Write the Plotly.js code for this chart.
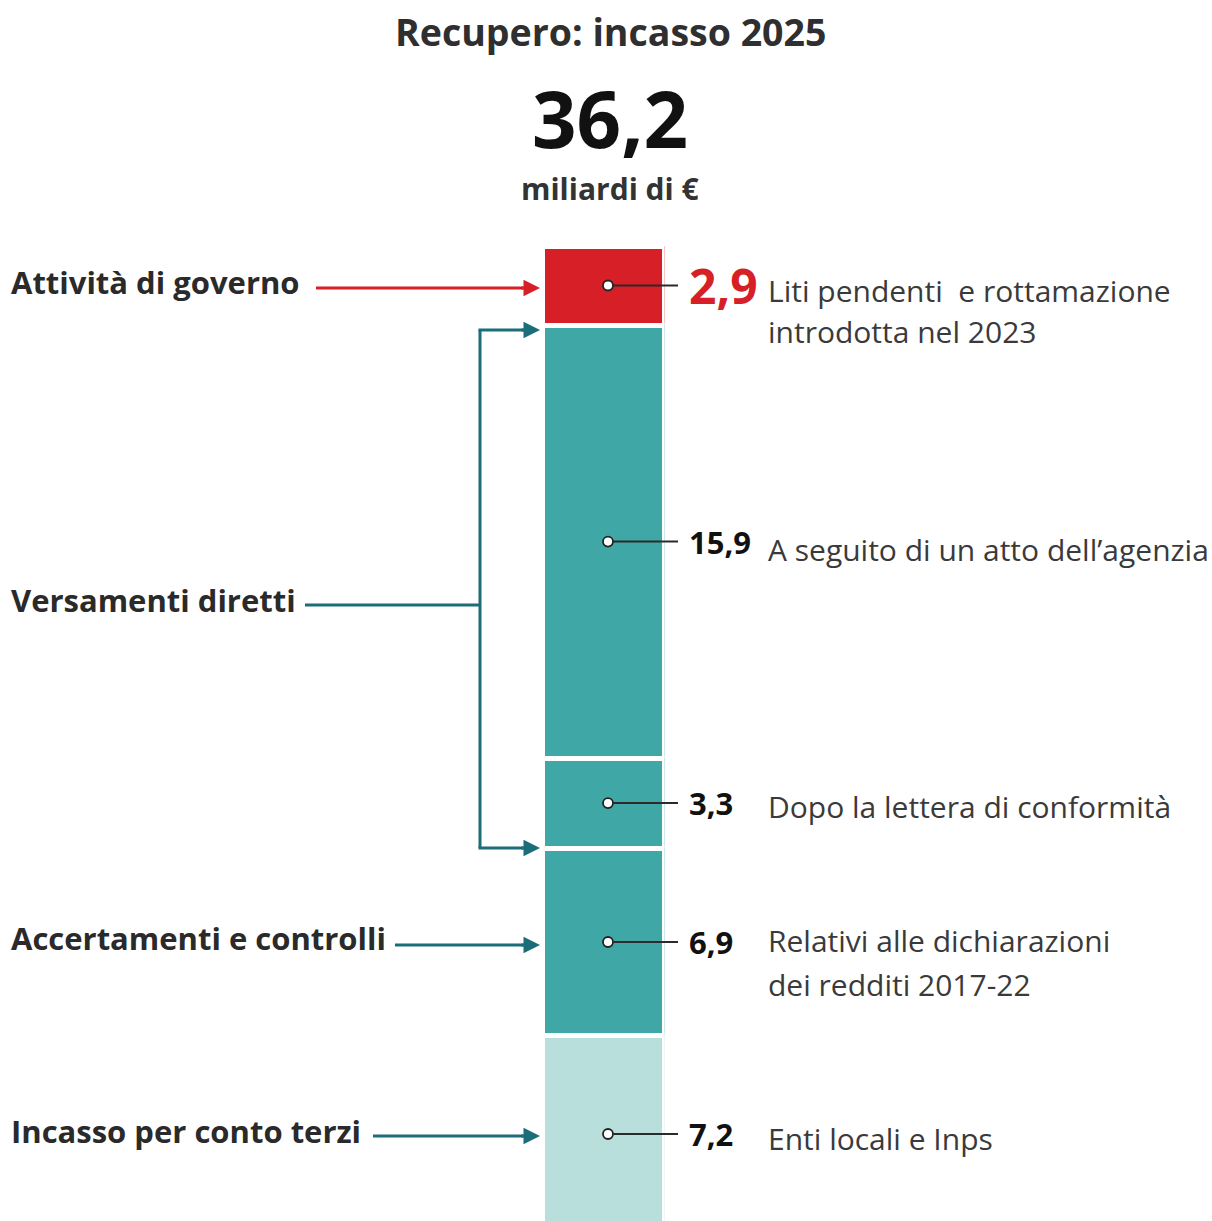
<!DOCTYPE html>
<html>
<head>
<meta charset="utf-8">
<script src="https://cdn.plot.ly/plotly-3.0.1.min.js"></script>
<style>html,body{margin:0;padding:0;background:#fff;}#chart{width:1212px;height:1221px;}</style>
</head>
<body>
<div id="chart"></div>
<script>
// ---- data ----
const segmentValues = [2.9, 15.9, 3.3, 6.9, 7.2];
const valueLabels = ['2,9', '15,9', '3,3', '6,9', '7,2'];
const descriptions = [
  ['Liti pendenti  e rottamazione', 'introdotta nel 2023'],
  ['A seguito di un atto dell’agenzia'],
  ['Dopo la lettera di conformità'],
  ['Relativi alle dichiarazioni', 'dei redditi 2017-22'],
  ['Enti locali e Inps']
];
const groupLabels = ['Attività di governo', 'Versamenti diretti', 'Accertamenti e controlli', 'Incasso per conto terzi'];
const totalLabel = '36,2';
const titleText = 'Recupero: incasso 2025';
const unitText = 'miliardi di €';
const category = ['Recupero'];

// ---- styles ----
const W = 1212, H = 1221, T = 246, B = 0;
const segColors = ['#d71f27', '#3fa8a6', '#3fa8a6', '#3fa8a6', '#b9dfdd'];
const red = '#d71f27', teal = '#1c6d7a';
const FONT = '"Open Sans", Lato, sans-serif';
const pxPerUnit = 27.24;
const plotH = H - T - B;
const yMax = plotH / pxPerUnit;
const px = x => x / W;
const py = y => (H - y) / plotH;

// cumulative midpoints
const mids = [];
let acc = 0;
segmentValues.forEach(v => { mids.push(acc + v / 2); acc += v; });

const traces = segmentValues.map((v, i) => ({
  type: 'bar', x: category, y: [v], xaxis: 'x', yaxis: 'y',
  marker: {color: segColors[i], line: {color: '#ffffff', width: 5}},
  hoverinfo: 'skip', showlegend: false
}));

// dots at segment midpoints
traces.push({
  type: 'scatter', mode: 'markers', xaxis: 'x2', yaxis: 'y',
  x: mids.map(() => 608), y: mids,
  marker: {size: 10, color: '#ffffff', line: {color: '#222222', width: 1.8}},
  hoverinfo: 'skip', showlegend: false, cliponaxis: false
});

const shapes = [];
// leader lines
mids.forEach(m => {
  shapes.push({type: 'line', xref: 'paper', yref: 'y', x0: px(613), x1: px(678), y0: m, y1: m,
    line: {color: '#2b2b2b', width: 2}, layer: 'above'});
});
// bracket for Versamenti diretti
shapes.push({type: 'line', xref: 'paper', yref: 'paper', x0: px(480), x1: px(480), y0: py(330), y1: py(848), line: {color: teal, width: 3}});
shapes.push({type: 'line', xref: 'paper', yref: 'paper', x0: px(305), x1: px(480), y0: py(605), y1: py(605), line: {color: teal, width: 3}});
shapes.push({type: 'line', xref: 'paper', yref: 'paper', x0: px(478.5), x1: px(528), y0: py(330), y1: py(330), line: {color: teal, width: 3}});
shapes.push({type: 'line', xref: 'paper', yref: 'paper', x0: px(478.5), x1: px(528), y0: py(848), y1: py(848), line: {color: teal, width: 3}});
// straight arrows
const arrowLines = [[316, 288, red], [395, 945, teal], [373, 1136, teal]];
arrowLines.forEach(a => {
  shapes.push({type: 'line', xref: 'paper', yref: 'paper', x0: px(a[0]), x1: px(528), y0: py(a[1]), y1: py(a[1]), line: {color: a[2], width: 3}});
});

const annotations = [];
// arrowheads
[[288, red], [330, teal], [848, teal], [945, teal], [1136, teal]].forEach(a => {
  annotations.push({xref: 'paper', yref: 'paper', x: px(540), y: py(a[0]), ax: -20, ay: 0,
    text: '', showarrow: true, arrowhead: 2, arrowsize: 1.1, arrowwidth: 3, arrowcolor: a[1]});
});
// value labels
valueLabels.forEach((t, i) => {
  annotations.push({xref: 'paper', yref: 'y', x: px(687), y: mids[i], xanchor: 'left', yanchor: 'middle',
    text: '<b>' + t + '</b>', showarrow: false,
    font: {family: FONT, size: i === 0 ? 48 : 31, color: i === 0 ? red : '#111111'}});
});
// descriptions (one annotation per line)
const descY = [[290, 332], [549], [806], [940, 984], [1138]];
descriptions.forEach((lines, i) => {
  lines.forEach((t, j) => {
    annotations.push({xref: 'paper', yref: 'paper', x: px(766), y: py(descY[i][j]), xanchor: 'left', yanchor: 'middle',
      text: t, showarrow: false, align: 'left',
      font: {family: FONT, size: 30, color: '#3a3a3a'}});
  });
});
// group labels
const groupY = [282, 600, 938, 1131];
groupLabels.forEach((t, i) => {
  annotations.push({xref: 'paper', yref: 'paper', x: px(9), y: py(groupY[i]), xanchor: 'left', yanchor: 'middle',
    text: '<b>' + t + '</b>', showarrow: false,
    font: {family: FONT, size: 31, color: '#2a2a2a'}});
});
// headline texts
annotations.push({xref: 'paper', yref: 'paper', x: px(610), y: py(32), xanchor: 'center', yanchor: 'middle',
  text: '<b>' + titleText + '</b>', showarrow: false, font: {family: FONT, size: 37.5, color: '#2f2f2f'}});
annotations.push({xref: 'paper', yref: 'paper', x: px(610), y: py(118), xanchor: 'center', yanchor: 'middle',
  text: '<b>' + totalLabel + '</b>', showarrow: false, font: {family: FONT, size: 78, color: '#111111'}});
annotations.push({xref: 'paper', yref: 'paper', x: px(610), y: py(188), xanchor: 'center', yanchor: 'middle',
  text: '<b>' + unitText + '</b>', showarrow: false, font: {family: FONT, size: 30, color: '#333333'}});

const layout = {
  width: W, height: H,
  margin: {l: 0, r: 0, t: T, b: B, pad: 0},
  paper_bgcolor: '#ffffff', plot_bgcolor: 'rgba(0,0,0,0)',
  barmode: 'stack', bargap: 0,
  xaxis: {domain: [px(542.5), px(664.5)], type: 'category', visible: false, fixedrange: true},
  xaxis2: {domain: [0, 1], range: [0, W], anchor: 'y', visible: false, fixedrange: true},
  yaxis: {range: [yMax, 0], visible: false, fixedrange: true},
  shapes: shapes,
  annotations: annotations,
  showlegend: false,
  font: {family: FONT}
};

Plotly.newPlot('chart', traces, layout, {displayModeBar: false, staticPlot: true});
</script>
</body>
</html>
